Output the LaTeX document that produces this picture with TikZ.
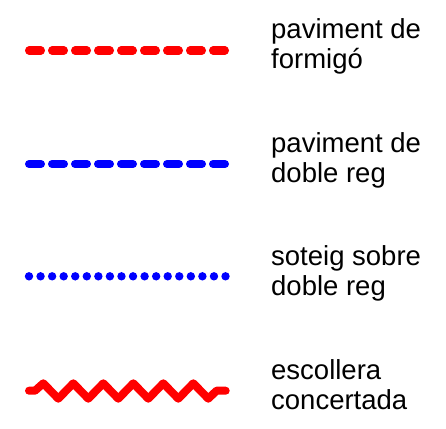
\documentclass[tikz,border=0pt]{standalone}
\usepackage{fontspec}
\setmainfont{Liberation Sans}
\begin{document}
\begin{tikzpicture}[
  stroke/.style={line width=8pt,line cap=round,line join=round},
  dashline/.style={stroke,dash pattern=on 12pt off 11pt},
  lbl/.style={anchor=base west,align=left,inner sep=0pt,font=\fontsize{27.5pt}{30pt}\selectfont}]
\useasboundingbox (0pt,0pt) rectangle (446pt,-428pt);
% 1: red dashed
\coordinate (a1) at (29pt,-50.5pt);
\coordinate (b1) at (225.7pt,-50.5pt);
\draw[stroke,dashline,red] (a1) -- (b1);
\node[lbl] (t1) at (271pt,-68.5pt) {paviment de\\formigó};
% 2: blue dashed
\coordinate (a2) at (29pt,-164pt);
\coordinate (b2) at (225.7pt,-164pt);
\draw[stroke,dashline,blue] (a2) -- (b2);
\node[lbl] (t2) at (271pt,-182.5pt) {paviment de\\doble reg};
% 3: blue dots
\foreach \i in {0,...,17} {
  \fill[blue] ({29pt+\i*11.56pt},-276.3pt) circle (4.2pt);
}
\node[lbl] (t3) at (271pt,-295pt) {soteig sobre\\doble reg};
% 4: red zigzag
\draw[stroke,red] (29pt,-390.7pt) -- (35pt,-390.7pt)
  \foreach \k in {0,...,5} { -- ({43.3pt+30pt*\k},-383.3pt) -- ({58.3pt+30pt*\k},-398.7pt) }
  -- (216.5pt,-390.7pt) -- (225.7pt,-390.7pt);
\node[lbl] (t4) at (271pt,-409pt) {escollera\\concertada};
\end{tikzpicture}
\end{document}
